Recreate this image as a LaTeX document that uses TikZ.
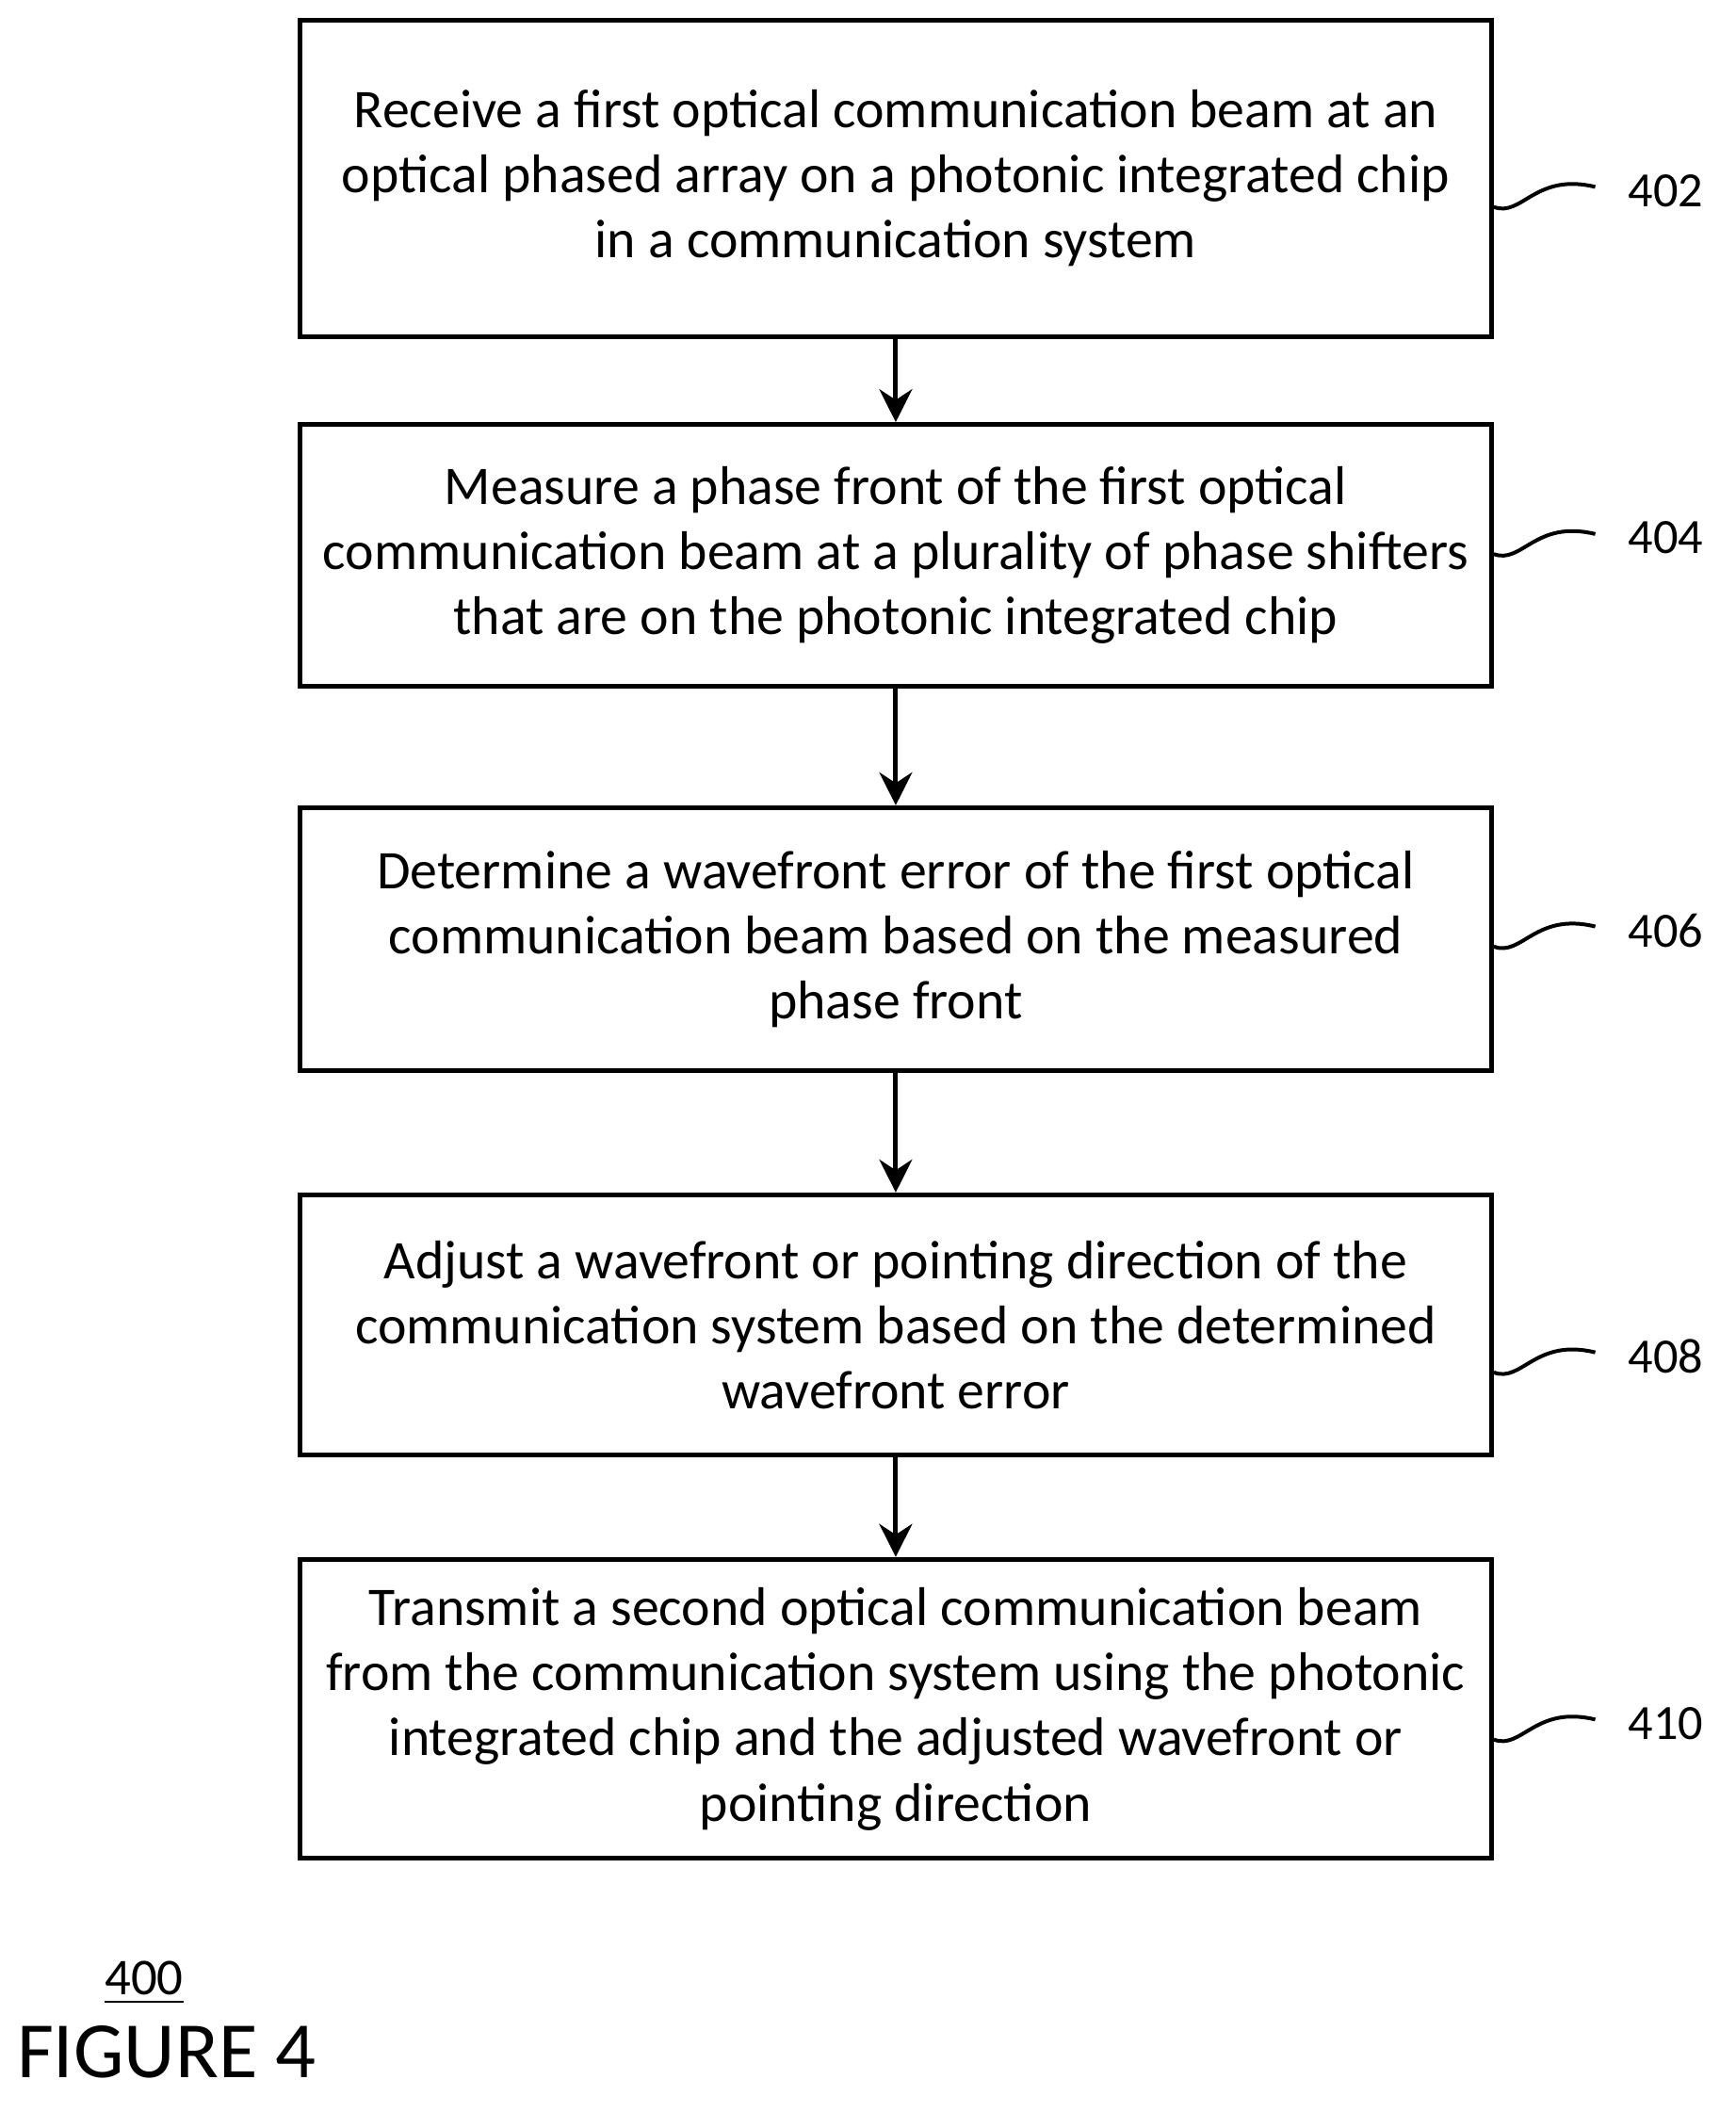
\documentclass[tikz,border=0pt]{standalone}
\usepackage{fontspec}
\setmainfont{Carlito}
\usetikzlibrary{arrows.meta}
\begin{document}
\begin{tikzpicture}[x=0.01cm,y=-0.01cm,
 box/.style={draw,line width=1pt,minimum width=8.92cm,align=center,inner sep=0pt,font=\fontsize{11.6}{13.9}\selectfont},
 arr/.style={-{Stealth[length=7pt,width=7pt]},line width=1pt},
 lab/.style={font=\fontsize{10.5}{12}\selectfont}]
\useasboundingbox (0,0) rectangle (1300,1582);
\node[box,minimum height=2.37cm] (b1) at (671,133.5) {Receive a first optical communication beam at an\\optical phased array on a photonic integrated chip\\in a communication system};
\node[box,minimum height=1.96cm] (b2) at (671,416) {Measure a phase front of the first optical\\communication beam at a plurality of phase shifters\\that are on the photonic integrated chip};
\node[box,minimum height=1.97cm] (b3) at (671,703.5) {Determine a wavefront error of the first optical\\communication beam based on the measured\\phase front};
\node[box,minimum height=1.95cm] (b4) at (671,992.5) {Adjust a wavefront or pointing direction of the\\communication system based on the determined\\wavefront error};
\node[box,minimum height=2.24cm] (b5) at (671,1280) {Transmit a second optical communication beam\\from the communication system using the photonic\\integrated chip and the adjusted wavefront or\\pointing direction};
\draw[arr] (b1) -- (b2);
\draw[arr] (b2) -- (b3);
\draw[arr] (b3) -- (b4);
\draw[arr] (b4) -- (b5);
\foreach \b/\n/\y in {b1/402/143,b2/404/403,b3/406/697,b4/408/1016,b5/410/1291}{
 \node[lab] (l\n) at (1248,\y) {\n};
 \draw[line width=0.8pt] (\b.east|-0,\y+12) .. controls (1140,\y+20) and (1150,\y-14) .. (1195,\y-3);
}
\node[font=\fontsize{11}{12}\selectfont] (n400) at (108,1485) {\underline{400}};
\node[font=\fontsize{17}{20}\selectfont,anchor=west,inner sep=0pt] (fig) at (12,1537) {FIGURE 4};
\end{tikzpicture}
\end{document}
